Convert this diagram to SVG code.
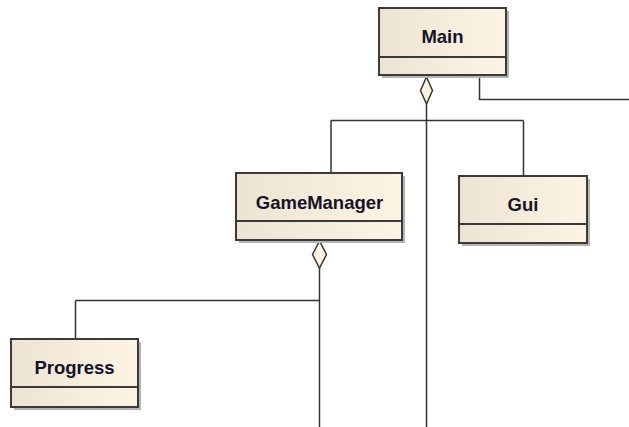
<svg xmlns="http://www.w3.org/2000/svg" width="629" height="427" viewBox="0 0 629 427">
  <defs>
    <linearGradient id="classFill" x1="0" y1="0" x2="1" y2="0">
      <stop offset="0" stop-color="#ece3d3"/>
      <stop offset="1" stop-color="#fdf4e4"/>
    </linearGradient>
    <style>
      .shadow { fill: #b4b4b4; }
      .box { fill: url(#classFill); stroke: #3a3a3a; stroke-width: 2; }
      .div { stroke: #3a3a3a; stroke-width: 2; fill: none; }
      .name { font-family: "Liberation Sans", Arial, sans-serif; font-weight: bold; font-size: 18.5px; fill: #141428; text-anchor: middle; }
      .conn { fill: none; stroke: #333; stroke-width: 1.5; }
      .agg { fill: #fdf3e3; stroke: #333; stroke-width: 1.5; }
    </style>
  </defs>
  <rect width="629" height="427" fill="#fff"/>

  <g id="connectors">
    <!-- aggregation from Main -->
    <polygon class="agg" points="426.5,77 420.5,90.5 426.5,104 432.5,90.5"/>
    <path class="conn" d="M426.5,104 V427"/>
    <path class="conn" d="M331,120.5 H523.5 M331,120.5 V173 M523.5,120.5 V176"/>
    <path class="conn" d="M479.5,75 V99.5 H629"/>
    <!-- aggregation from GameManager -->
    <polygon class="agg" points="319.5,241 312.5,254.5 319.5,268 326.5,254.5"/>
    <path class="conn" d="M319.5,268 V427"/>
    <path class="conn" d="M75.5,300.5 H319.5 M75.5,300.5 V339"/>
  </g>

  <g id="main">
    <rect class="shadow" x="382" y="11" width="127" height="67"/>
    <rect class="box" x="379" y="8" width="127" height="67"/>
    <line class="div" x1="379" y1="57" x2="506" y2="57"/>
    <text class="name" x="442.5" y="43">Main</text>
  </g>

  <g id="gamemanager">
    <rect class="shadow" x="239" y="176" width="166" height="67"/>
    <rect class="box" x="236" y="173" width="166" height="67"/>
    <line class="div" x1="236" y1="221" x2="402" y2="221"/>
    <text class="name" x="319.5" y="209">GameManager</text>
  </g>

  <g id="gui">
    <rect class="shadow" x="462" y="179" width="128" height="67"/>
    <rect class="box" x="459" y="176" width="128" height="67"/>
    <line class="div" x1="459" y1="224" x2="587" y2="224"/>
    <text class="name" x="523" y="211">Gui</text>
  </g>

  <g id="progress">
    <rect class="shadow" x="14" y="342" width="127" height="68"/>
    <rect class="box" x="11" y="339" width="127" height="68"/>
    <line class="div" x1="11" y1="387" x2="138" y2="387"/>
    <text class="name" x="74.5" y="374">Progress</text>
  </g>
</svg>
